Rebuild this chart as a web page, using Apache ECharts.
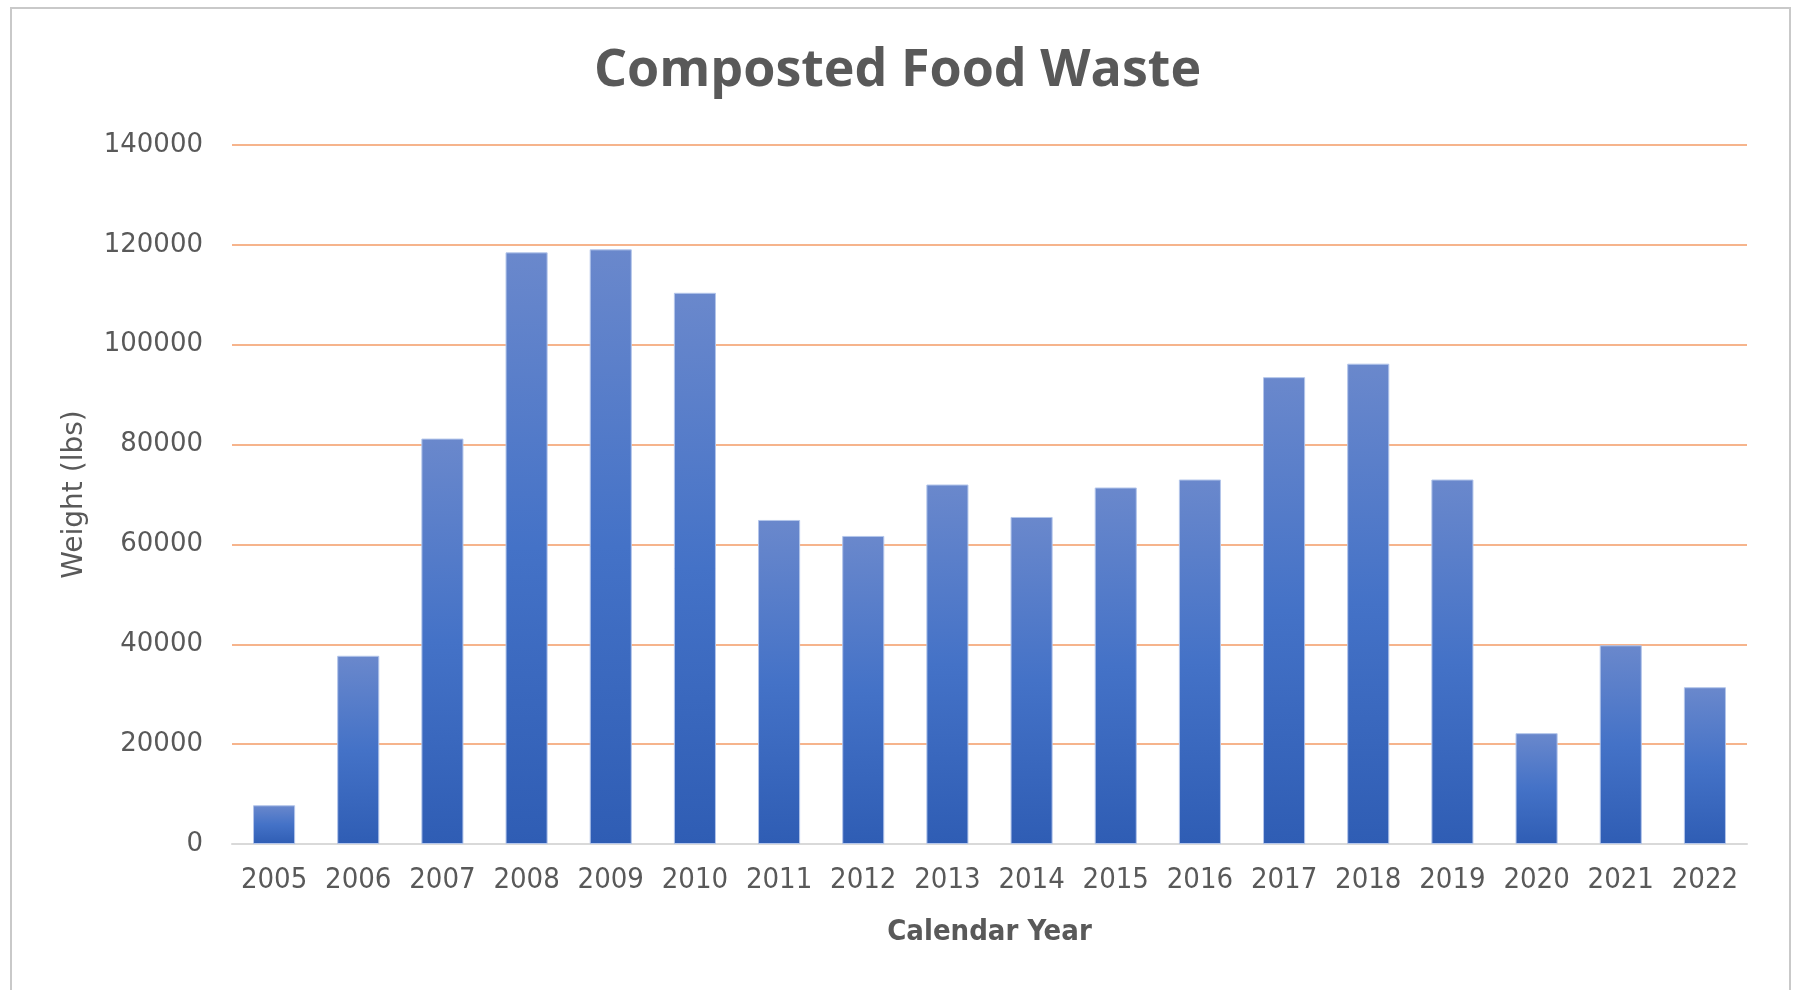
<!DOCTYPE html>
<html>
<head>
<meta charset="utf-8">
<script src="https://cdn.jsdelivr.net/npm/echarts@6/dist/echarts.min.js"></script>
<style>
  html, body { margin: 0; padding: 0; background: #ffffff; }
  #chart { width: 1795px; height: 990px; }
</style>
</head>
<body>
<div id="chart"></div>
<script>
const years = ['2005','2006','2007','2008','2009','2010','2011','2012','2013','2014','2015','2016','2017','2018','2019','2020','2021','2022'];
const weights = [7760, 37700, 81200, 118500, 119100, 110400, 64900, 61700, 72000, 65500, 71400, 73000, 93500, 96200, 73000, 22200, 39800, 31400];
const yTicks = { min: 0, max: 140000, interval: 20000 };
const titleText = 'Composted Food Waste';
const xTitle = 'Calendar Year';
const yTitle = 'Weight (lbs)';

const chart = echarts.init(document.getElementById('chart'), null, { renderer: 'canvas' });
const gray = '#595959';
chart.setOption({
  animation: false,
  backgroundColor: '#ffffff',
  title: {
    text: titleText,
    left: 'center',
    top: 40,
    textStyle: { fontFamily: 'Open Sans', fontWeight: 'bold', fontSize: 52, color: gray }
  },
  graphic: [{
    type: 'rect',
    shape: { x: 11, y: 8, width: 1779, height: 1000 },
    style: { fill: 'none', stroke: '#c9c9c9', lineWidth: 2 },
    silent: true
  }],
  grid: { left: 232, right: 48, top: 145, bottom: 146, containLabel: false },
  xAxis: {
    type: 'category',
    data: years,
    name: xTitle,
    nameLocation: 'middle',
    nameGap: 74,
    nameTextStyle: { fontFamily: 'DejaVu Sans Condensed, DejaVu Sans', fontWeight: 'bold', fontSize: 29, color: gray },
    axisLine: { lineStyle: { color: '#d9d9d9', width: 2 } },
    axisTick: { show: false },
    axisLabel: { interval: 0, fontFamily: 'DejaVu Sans Condensed, DejaVu Sans', fontSize: 29, color: gray, margin: 22 }
  },
  yAxis: {
    type: 'value',
    min: yTicks.min,
    max: yTicks.max,
    interval: yTicks.interval,
    name: yTitle,
    nameLocation: 'middle',
    nameRotate: 90,
    nameGap: 143,
    nameTextStyle: { fontFamily: 'DejaVu Sans', fontSize: 28, color: gray },
    axisLine: { show: false },
    axisTick: { show: false },
    splitLine: { lineStyle: { color: '#F6B48C', width: 2 } },
    axisLabel: { fontFamily: 'DejaVu Sans', fontSize: 26, color: gray, margin: 29, formatter: function (v) { return String(v); } }
  },
  series: [{
    type: 'bar',
    data: weights,
    barWidth: '50%',
    itemStyle: {
      color: new echarts.graphic.LinearGradient(0, 0, 0, 1, [
        { offset: 0, color: '#6A88CC' },
        { offset: 0.5, color: '#4472C7' },
        { offset: 1, color: '#2F5DB4' }
      ]),
      borderColor: '#B3C5EA',
      borderWidth: 1
    }
  }]
});
</script>
</body>
</html>
